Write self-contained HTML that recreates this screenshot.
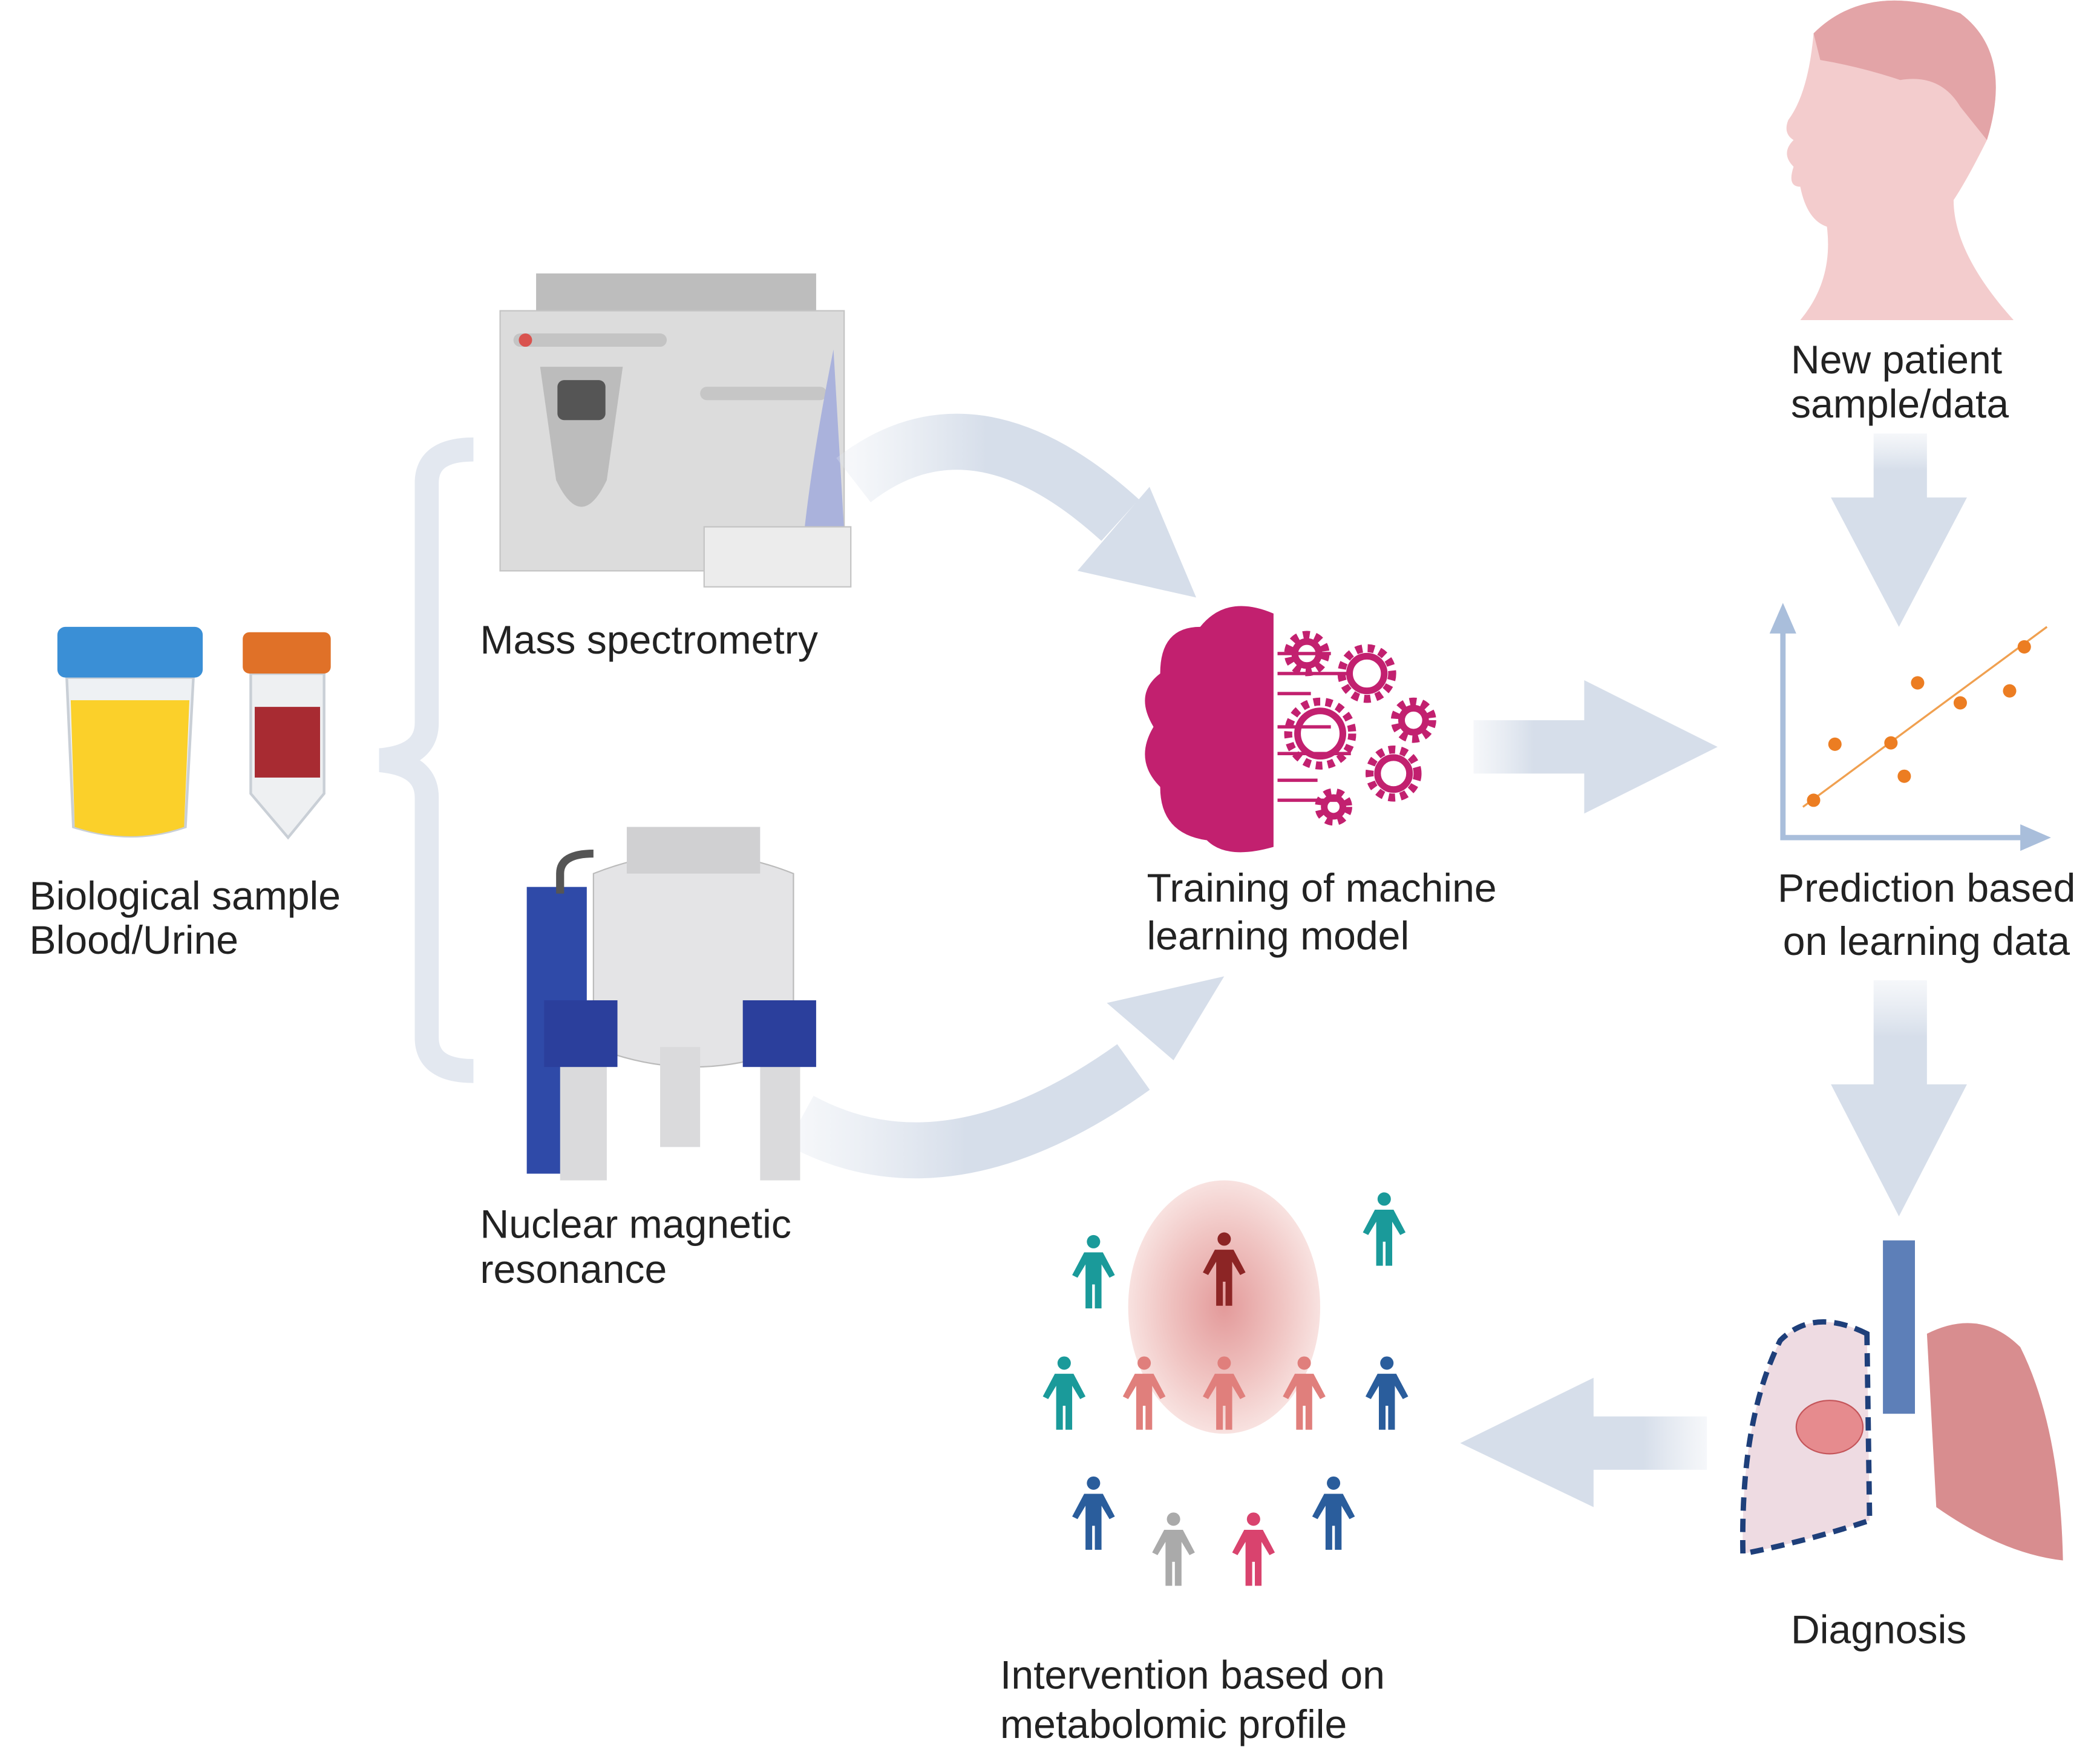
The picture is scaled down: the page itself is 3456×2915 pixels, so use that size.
<!DOCTYPE html>
<html><head><meta charset="utf-8"><style>
html,body{margin:0;padding:0;background:#fff}
svg{display:block}
text{font-family:"Liberation Sans",sans-serif;font-size:30px;fill:#222}
</style></head><body>
<svg width="3456" height="2915" viewBox="0 0 1568 1322.6" xmlns="http://www.w3.org/2000/svg">
<defs>
<linearGradient id="gr" x1="0" x2="1"><stop offset="0" stop-color="#dfe5ee" stop-opacity="0.3"/><stop offset="0.5" stop-color="#d6deea"/></linearGradient>
<linearGradient id="gd" x1="0" x2="0" y1="0" y2="1"><stop offset="0" stop-color="#dfe5ee" stop-opacity="0.3"/><stop offset="0.5" stop-color="#d6deea"/></linearGradient>
<linearGradient id="gl" x1="1" x2="0"><stop offset="0" stop-color="#dfe5ee" stop-opacity="0.3"/><stop offset="0.5" stop-color="#d6deea"/></linearGradient>
<radialGradient id="rg"><stop offset="0" stop-color="#e39a9a"/><stop offset="0.6" stop-color="#f0c4c2"/><stop offset="1" stop-color="#f8e2e0"/></radialGradient>
<g id="p"><circle cx="0" cy="-26" r="5"/><path d="M-7,-18 h14 l9,17 -4,2 -6,-10 v33 h-5 v-18 h-2 v18 h-5 v-33 l-6,10 -4,-2z"/></g>
</defs>

<path d="M50,508 h95 l-6,112 q-40,14 -84,0z" fill="#eef1f4" stroke="#c9cfd6" stroke-width="2"/>
<path d="M53,525 h89 l-4,95 q-40,14 -82,0z" fill="#fbd02a"/>
<rect x="43" y="470" width="109" height="38" rx="6" fill="#3a8fd6"/>
<path d="M188,505 h55 v90 l-27,33 -28,-33z" fill="#eef0f2" stroke="#c9cfd6" stroke-width="2"/>
<rect x="191" y="530" width="49" height="53" fill="#a82b32"/>
<rect x="182" y="474" width="66" height="31" rx="5" fill="#e07128"/>

<text x="22" y="682">Biological sample</text>
<text x="22" y="715">Blood/Urine</text>

<path d="M355,337 q-35,0 -35,25 v180 q0,25 -35,28 q35,3 35,28 v180 q0,25 35,25" fill="none" stroke="#e3e8f0" stroke-width="18"/>

<rect x="402" y="205" width="210" height="30" fill="#bdbdbd"/>
<rect x="375" y="233" width="258" height="195" fill="#dcdcdc" stroke="#c4c4c4"/>
<rect x="385" y="250" width="115" height="10" rx="5" fill="#c4c4c4"/>
<circle cx="394" cy="255" r="5" fill="#d9534f"/>
<path d="M405,275 h62 l-12,85 q-19,40 -38,0z" fill="#bcbcbc"/>
<rect x="418" y="285" width="36" height="30" rx="5" fill="#555"/>
<rect x="525" y="290" width="95" height="10" rx="5" fill="#c6c6c6"/>
<path d="M625,262 q-20,100 -25,170 h35z" fill="#aab2dc"/>
<rect x="528" y="395" width="110" height="45" fill="#ececec" stroke="#c4c4c4"/>
<text x="360" y="490">Mass spectrometry</text>

<path d="M640,360 q90,-70 200,30" fill="none" stroke="url(#gr)" stroke-width="42"/>
<polygon points="897,448 808,428 862,365" fill="#d6deea"/>
<path d="M600,840 q110,60 250,-40" fill="none" stroke="url(#gr)" stroke-width="42"/>
<polygon points="918,732 880,795 830,752" fill="#d6deea"/>

<rect x="395" y="665" width="45" height="215" fill="#2f4aa8"/>
<path d="M445,655 q75,-30 150,0 v130 q-75,30 -150,0z" fill="#e4e4e6" stroke="#bbb"/>
<rect x="470" y="620" width="100" height="35" fill="#d0d0d2"/>
<rect x="420" y="785" width="35" height="100" fill="#dadadc"/>
<rect x="570" y="785" width="30" height="100" fill="#dadadc"/>
<rect x="495" y="785" width="30" height="75" fill="#dadadc"/>
<rect x="408" y="750" width="55" height="50" fill="#2b3f9c"/>
<rect x="557" y="750" width="55" height="50" fill="#2b3f9c"/>
<path d="M420,670 v-15 q0,-15 25,-15" fill="none" stroke="#555" stroke-width="6"/>
<text x="360" y="928">Nuclear magnetic</text>
<text x="360" y="962">resonance</text>

<path d="M955,460 q-35,-15 -55,10 q-30,0 -30,35 q-20,15 -5,40 q-15,25 5,45 q0,35 35,40 q15,15 50,5z" fill="#c2206f"/>
<g fill="none" stroke="#c2206f" stroke-width="2.5">
<path d="M958,490 h40 M958,505 h55 M958,520 h25 M958,545 h40 M958,565 h55 M958,585 h30 M958,600 h45"/>
</g>
<g fill="none" stroke="#c2206f">
<g stroke-width="5"><circle cx="980" cy="490" r="9"/><circle cx="1025" cy="505" r="13"/><circle cx="990" cy="550" r="17"/><circle cx="1060" cy="540" r="9"/><circle cx="1045" cy="580" r="12"/><circle cx="1000" cy="605" r="7"/></g>
<g stroke-width="6" stroke-dasharray="5 4"><circle cx="980" cy="490" r="14"/><circle cx="1025" cy="505" r="19"/><circle cx="990" cy="550" r="24"/><circle cx="1060" cy="540" r="14"/><circle cx="1045" cy="580" r="18"/><circle cx="1000" cy="605" r="11"/></g>
</g>
<text x="860" y="676">Training of machine</text>
<text x="860" y="712">learning model</text>

<rect x="1105" y="540" width="90" height="40" fill="url(#gr)"/>
<polygon points="1188,510 1288,560 1188,610" fill="#d6deea"/>

<path d="M1337,465 v163 h190" fill="none" stroke="#a9bedb" stroke-width="4"/>
<polygon points="1337,452 1327,475 1347,475" fill="#a9bedb"/>
<polygon points="1538,628 1515,618 1515,638" fill="#a9bedb"/>
<line x1="1352" y1="605" x2="1535" y2="470" stroke="#f0a050" stroke-width="1.5"/>
<g fill="#ec7d22"><circle cx="1360" cy="600" r="5"/><circle cx="1376" cy="558" r="5"/><circle cx="1418" cy="557" r="5"/><circle cx="1428" cy="582" r="5"/><circle cx="1438" cy="512" r="5"/><circle cx="1470" cy="527" r="5"/><circle cx="1507" cy="518" r="5"/><circle cx="1518" cy="485" r="5"/></g>
<text x="1333" y="676">Prediction based</text>
<text x="1337" y="716">on learning data</text>

<path d="M1360,25 q40,-40 110,-15 q40,30 20,95 q-15,30 -25,45 q0,40 45,90 h-160 q25,-30 20,-70 q-15,-5 -20,-30 q-10,0 -5,-15 q-10,-10 0,-20 q-8,-5 -4,-15 q15,-20 19,-65z" fill="#f3cccd"/>
<path d="M1360,25 q40,-40 110,-15 q40,30 20,95 l-20,-25 q-15,-25 -45,-20 q-30,-10 -60,-15z" fill="#e3a4a7"/>
<text x="1343" y="280">New patient</text>
<text x="1343" y="313">sample/data</text>

<rect x="1405" y="325" width="40" height="55" fill="url(#gd)"/>
<polygon points="1373,373 1475,373 1424,470" fill="#d6deea"/>
<rect x="1405" y="735" width="40" height="85" fill="url(#gd)"/>
<polygon points="1373,813 1475,813 1424,912" fill="#d6deea"/>

<rect x="1412" y="930" width="24" height="130" fill="#5d7fb8"/>
<path d="M1400,1000 q-40,-20 -65,5 q-30,60 -28,160 q50,-10 95,-25z" fill="#eedbe2" stroke="#1e3f7a" stroke-width="4" stroke-dasharray="10 6"/>
<path d="M1445,1000 q40,-20 70,10 q30,60 32,160 q-45,-5 -95,-40z" fill="#d88d8f"/>
<ellipse cx="1372" cy="1070" rx="25" ry="20" fill="#e68b8e" stroke="#c4555a"/>
<text x="1343" y="1232">Diagnosis</text>

<rect x="1185" y="1062" width="95" height="40" fill="url(#gl)"/>
<polygon points="1195,1033 1095,1082 1195,1130" fill="#d6deea"/>

<ellipse cx="918" cy="980" rx="72" ry="95" fill="url(#rg)"/>
<use href="#p" x="918" y="955" fill="#8c2525"/>
<use href="#p" x="820" y="957" fill="#1a9a9a"/>
<use href="#p" x="1038" y="925" fill="#1a9a9a"/>
<use href="#p" x="798" y="1048" fill="#1a9a9a"/>
<use href="#p" x="858" y="1048" fill="#e07f7c"/>
<use href="#p" x="918" y="1048" fill="#e07f7c"/>
<use href="#p" x="978" y="1048" fill="#e07f7c"/>
<use href="#p" x="1040" y="1048" fill="#2a5d9c"/>
<use href="#p" x="820" y="1138" fill="#2a5d9c"/>
<use href="#p" x="1000" y="1138" fill="#2a5d9c"/>
<use href="#p" x="880" y="1165" fill="#aaa"/>
<use href="#p" x="940" y="1165" fill="#d9436e"/>
<text x="750" y="1266">Intervention based on</text>
<text x="750" y="1303">metabolomic profile</text>
</svg>
</body></html>
